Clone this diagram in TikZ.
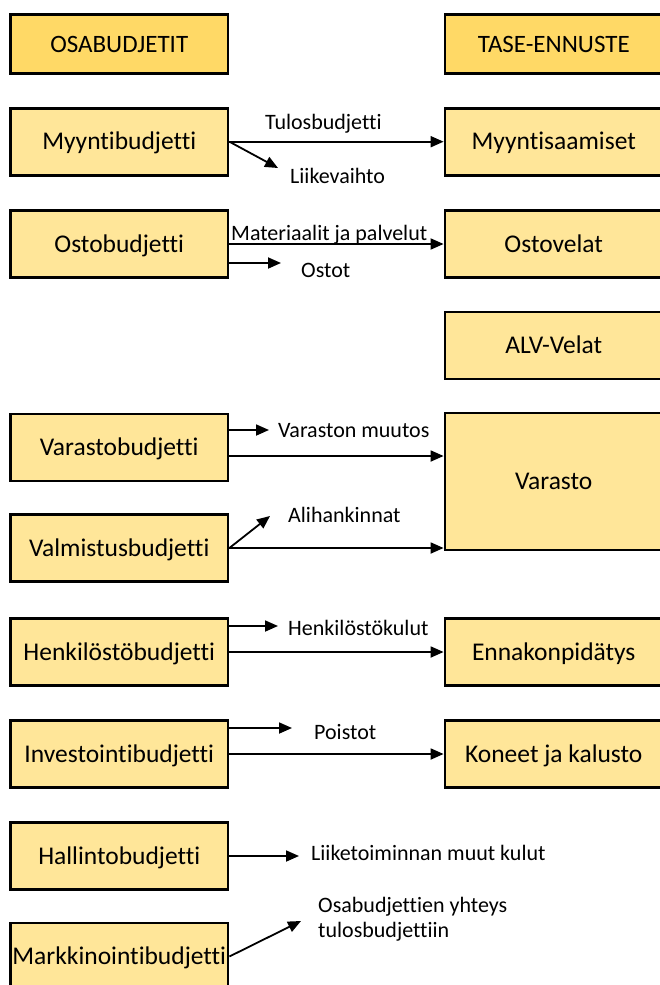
\documentclass[tikz,border=0pt]{standalone}
\usepackage{fontspec}
\setmainfont{Carlito}[Ligatures=NoCommon]
\usetikzlibrary{positioning, arrows.meta}
\definecolor{headfill}{HTML}{FFD966}
\definecolor{boxfill}{HTML}{FFE699}

\begin{document}
\begin{tikzpicture}[x=1pt, y=-1pt,
    budget/.style={draw, line width=2.8pt, fill=boxfill, minimum width=217.5pt, minimum height=67pt,
      inner sep=1pt, font=\fontsize{25.5}{30}\selectfont, text height=16pt, text depth=0pt},
    header/.style={budget, fill=headfill, minimum height=59.4pt, font=\fontsize{25}{30}\selectfont},
    flow/.style={-{Triangle[length=13pt, width=11pt]}, line width=1.8pt},
    lbl/.style={inner sep=0pt, anchor=base west, font=\fontsize{22}{25}\selectfont}]
      \useasboundingbox (0,0) rectangle (660,985);

      \node[header] (OB0) at (119.25,44) {OSABUDJETIT};
      \node[header] (TE0) at (553.75,44) {TASE-ENNUSTE};

      \node[budget] (OB1) at (119.25,141.7) {Myyntibudjetti};
      \node[budget] (OB2) at (119.25,244) {Ostobudjetti};
      \node[budget] (OB3) at (119.25,447.5) {Varastobudjetti};
      \node[budget] (OB4) at (119.25,548) {Valmistusbudjetti};
      \node[budget] (OB5) at (119.25,652) {Henkilöstöbudjetti};
      \node[budget] (OB6) at (119.25,754) {Investointibudjetti};
      \node[budget] (OB7) at (119.25,856) {Hallintobudjetti};
      \node[budget] (OB8) at (119.25,956.5) {Markkinointibudjetti};

      \node[budget] (TE1) at (553.75,141.7) {Myyntisaamiset};
      \node[budget] (TE2) at (553.75,244) {Ostovelat};
      \node[budget] (TE3) at (553.75,345.5) {ALV-Velat};
      \node[budget, minimum height=137pt] (TE4) at (553.75,481.5) {Varasto};
      \node[budget] (TE5) at (553.75,652) {Ennakonpidätys};
      \node[budget] (TE6) at (553.75,754) {Koneet ja kalusto};

      \coordinate (E2) at (278,168);
      \coordinate (E4) at (281,263);
      \coordinate (E5) at (269,430);
      \coordinate (S6) at ([yshift=-8.5pt]OB3.east);
      \coordinate (E7) at (270,516);
      \coordinate (E9) at (278,626);
      \coordinate (E11) at (292,728);
      \coordinate (E13) at (299,856);
      \coordinate (E14) at (301,921);

      \draw[flow] (OB1.east) -- (TE1.west);
      \draw[flow] (OB1.east) -- (E2);
      \draw[flow] (OB2.east) -- (TE2.west);
      \draw[flow] (OB2.east |- E4) -- (E4);
      \draw[flow] (OB3.east |- E5) -- (E5);
      \draw[flow] (S6) -- (S6 -| TE4.west);
      \draw[flow] (OB4.east) -- (E7);
      \draw[flow] (OB4.east) -- (OB4.east -| TE4.west);
      \draw[flow] (OB5.east |- E9) -- (E9);
      \draw[flow] (OB5.east) -- (TE5.west);
      \draw[flow] (OB6.east |- E11) -- (E11);
      \draw[flow] (OB6.east) -- (TE6.west);
      \draw[flow] (OB7.east) -- (E13);
      \draw[flow] (OB8.east) -- (E14);

      \node[lbl] (L1) at (265,129) {Tulosbudjetti};
      \node[lbl] (L2) at (290,183) {Liikevaihto};
      \node[lbl] (L3) at (231,240) {Materiaalit ja palvelut};
      \node[lbl] (L4) at (301,277) {Ostot};
      \node[lbl] (L5) at (278,437) {Varaston muutos};
      \node[lbl] (L7) at (288,522) {Alihankinnat};
      \node[lbl] (L9) at (288,635) {Henkilöstökulut};
      \node[lbl] (L11) at (314,739) {Poistot};
      \node[lbl] (L13) at (311,860) {Liiketoiminnan muut kulut};
      \node[lbl, anchor=north west, align=left] (L14) at (318,897) {Osabudjettien yhteys\\tulosbudjettiin};
\end{tikzpicture}
\end{document}
